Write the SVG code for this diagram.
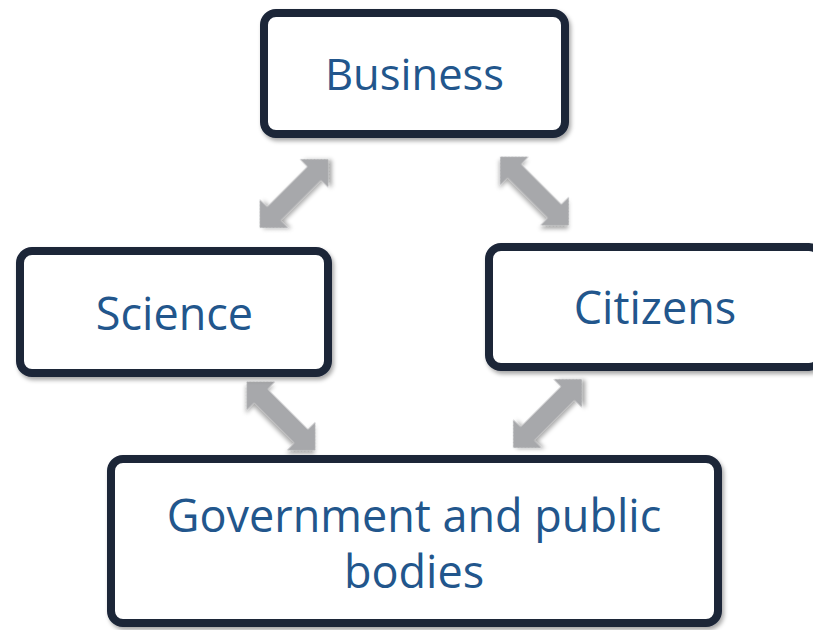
<svg xmlns="http://www.w3.org/2000/svg" width="813" height="630" viewBox="0 0 813 630">
<defs>
<filter id="sh" x="-20%" y="-20%" width="140%" height="140%">
<feDropShadow dx="2" dy="3" stdDeviation="2" flood-color="#000" flood-opacity="0.35"/>
</filter>
<path id="arr" d="M-48.5,0 L-28.5,-20 L-28.5,-9.5 L28.5,-9.5 L28.5,-20 L48.5,0 L28.5,20 L28.5,9.5 L-28.5,9.5 L-28.5,20 Z"/>
</defs>
<style>
.box{fill:#fff;stroke:#1B2538;stroke-width:8;filter:url(#sh)}
.lbl{font-family:"Open Sans","Noto Sans",sans-serif;font-size:45px;fill:#22568C;text-anchor:middle}
.ar{fill:#A7A8AB;filter:url(#sh)}
</style>
<rect width="813" height="630" fill="#fff"/>
<g id="connectors">
<use href="#arr" class="ar" transform="translate(294,193.5) rotate(-45)"/>
<use href="#arr" class="ar" transform="translate(534.5,191) rotate(45)"/>
<use href="#arr" class="ar" transform="translate(281,416) rotate(45)"/>
<use href="#arr" class="ar" transform="translate(547.5,413.5) rotate(-45)"/>
</g>
<g id="business">
<rect class="box" x="264" y="13" width="301" height="121" rx="12"/>
<text class="lbl" x="414.5" y="90" style="font-size:43.5px">Business</text>
</g>
<g id="science">
<rect class="box" x="20" y="251" width="308" height="122" rx="12"/>
<text class="lbl" x="174.5" y="330">Science</text>
</g>
<g id="citizens">
<rect class="box" x="489" y="247" width="332" height="120" rx="12"/>
<text class="lbl" x="655" y="324">Citizens</text>
</g>
<g id="government">
<rect class="box" x="111" y="459" width="607" height="164" rx="12"/>
<text class="lbl" x="414" y="532">Government and public</text>
<text class="lbl" x="414" y="588">bodies</text>
</g>
</svg>
